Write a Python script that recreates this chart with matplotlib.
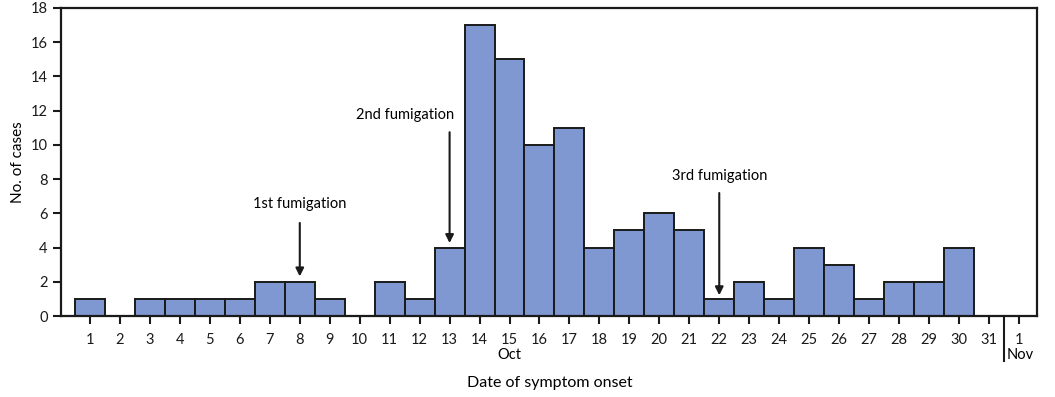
import matplotlib.pyplot as plt
import numpy as np

plt.rcParams['font.family'] = ['Lato', 'DejaVu Sans']

# gunler: 1-31 Ekim, 1 Kasim
gun_etiket = [str(d) for d in range(1, 32)] + ["1"]
vaka = [1, 0, 1, 1, 1, 1, 2, 2, 1, 0, 2, 1, 4, 17, 15, 10, 11, 4, 5, 6, 5,
        1, 2, 1, 4, 3, 1, 2, 2, 4, 0, 0]

# ilaclama notlari (gun, yazi yeri, ok basi, ok ucu)
ilaclama_isim = ["1st fumigation", "2nd fumigation", "3rd fumigation"]
ilaclama_gun = [8, 13, 22]
ilaclama_yazi_x = [8, 11.5, 22]
ilaclama_yazi_y = [6.55, 11.75, 8.2]
ilaclama_ok_bas = [5.6, 10.9, 7.35]
ilaclama_ok_uc = [2.15, 4.1, 1.05]

x = np.arange(1, len(vaka) + 1)

fig = plt.figure(figsize=(10.55, 3.97), dpi=100)
ax = fig.add_axes([0.0578, 0.204, 0.925, 0.776])

ax.bar(x, vaka, width=1.0, color="#7f98d2", edgecolor="#1a1a1a", linewidth=1.4)

ax.set_xlim(0.03, 32.6)
ax.set_ylim(0, 18)
ax.set_yticks(range(0, 19, 2))
ax.set_xticks(x)
ax.set_xticklabels(gun_etiket)
ax.tick_params(axis="both", direction="out", length=6, width=1.5,
               labelsize=10.5, colors="#1a1a1a")
ax.tick_params(axis="x", pad=6)
for s in ax.spines.values():
    s.set_linewidth(1.6)
    s.set_color("#1a1a1a")

ax.set_ylabel("No. of cases", fontsize=11, labelpad=4)
fig.text(0.521, 0.035, "Date of symptom onset", ha="center", va="center", fontsize=11.5)
ax.text(15, -2.25, "Oct", ha="center", va="center", fontsize=10.5)
ax.text(32.05, -2.25, "Nov", ha="center", va="center", fontsize=10.5)
ax.plot([31.5, 31.5], [0, -2.65], color="#1a1a1a", lw=1.5, clip_on=False)

for isim, g, tx, ty, ob, ou in zip(ilaclama_isim, ilaclama_gun, ilaclama_yazi_x,
                                   ilaclama_yazi_y, ilaclama_ok_bas, ilaclama_ok_uc):
    ax.text(tx, ty, isim, ha="center", va="center", fontsize=10.5)
    ax.annotate("", xy=(g, ou), xytext=(g, ob),
                arrowprops=dict(arrowstyle="-|>", color="#1a1a1a", lw=1.5,
                                mutation_scale=12))

fig.savefig("out.png", dpi=100)
